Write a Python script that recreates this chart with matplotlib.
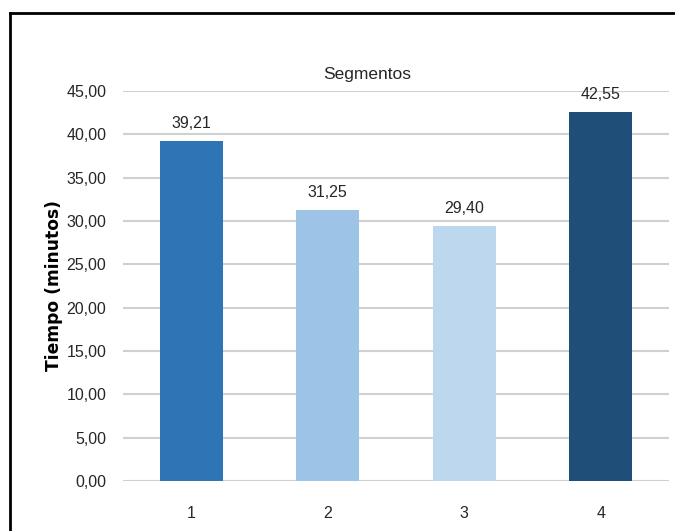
import matplotlib
matplotlib.use("Agg")
import matplotlib.pyplot as plt
from matplotlib.lines import Line2D

# Datos del grafico
segmentos = ["1", "2", "3", "4"]
tiempos = [39.21, 31.25, 29.40, 42.55]
colores = ["#2E75B6", "#9DC3E6", "#BDD7EE", "#1F4E79"]
yticks = [0, 5, 10, 15, 20, 25, 30, 35, 40, 45]

plt.rcParams['font.family'] = ['Liberation Sans', 'DejaVu Sans']

fig = plt.figure(figsize=(6.75, 5.31), dpi=100)
ax = fig.add_axes([0.182, 0.094, 0.809, 0.735])

x = list(range(len(segmentos)))
bars = ax.bar(x, tiempos, width=0.46, color=colores, zorder=3)

for b, v in zip(bars, tiempos):
    ax.annotate(f"{v:.2f}".replace(".", ","), (b.get_x() + b.get_width() / 2, v),
                xytext=(0, 7), textcoords="offset points", ha="center", va="bottom",
                fontsize=11.5, color="#262626")

ax.set_xlim(-0.5, 3.5)
ax.set_ylim(0, 45)
ax.set_xticks(x)
ax.set_xticklabels(segmentos)
ax.set_yticks(yticks)
ax.set_yticklabels([f"{t:.2f}".replace(".", ",") for t in yticks])
ax.tick_params(axis="both", length=0, labelsize=11.5, colors="#262626")
ax.tick_params(axis="x", pad=18)
ax.tick_params(axis="y", pad=12)
for s in ax.spines.values():
    s.set_visible(False)
ax.yaxis.grid(True, color="#D0D0D0", linewidth=1.5, zorder=0)

ax.set_ylabel("Tiempo (minutos)", fontsize=12.3, fontweight="bold",
              family=['DejaVu Sans'], labelpad=2)

fig.text(367 / 675, 1 - 75 / 531, "Segmentos", ha="center", va="center",
         fontsize=12.5, color="#262626")

# marco del grafico (arriba e izquierda)
fig.add_artist(Line2D([10 / 675, 1], [1 - 13 / 531, 1 - 13 / 531], color="black",
                      linewidth=2, transform=fig.transFigure))
fig.add_artist(Line2D([10 / 675, 10 / 675], [0, 1 - 13 / 531], color="black",
                      linewidth=2, transform=fig.transFigure))

fig.savefig("out.png", dpi=100)
